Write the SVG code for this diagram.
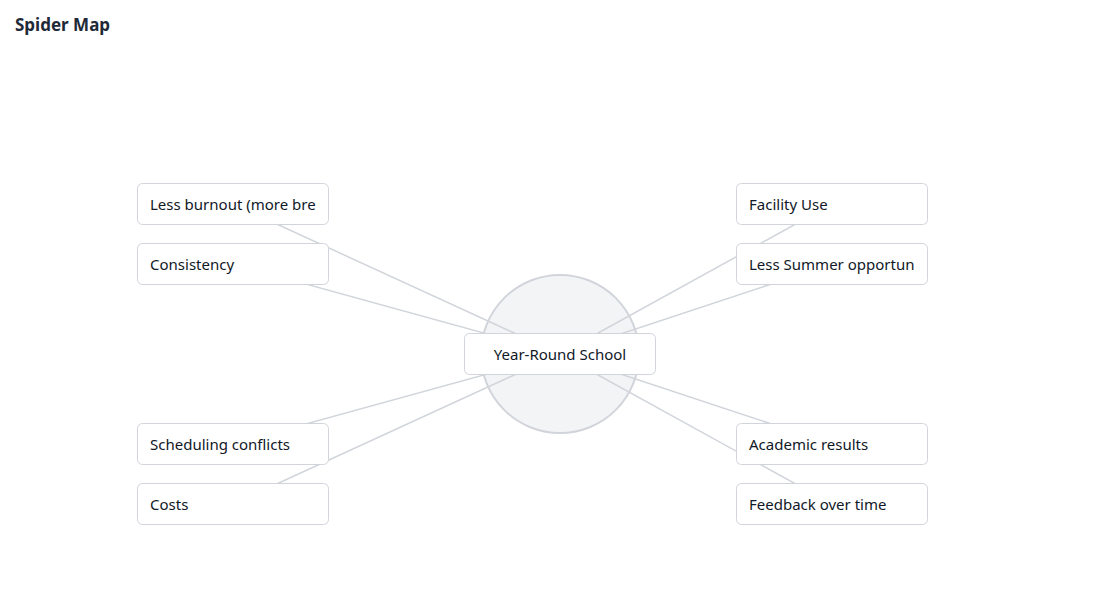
<svg xmlns="http://www.w3.org/2000/svg" width="1096" height="607" viewBox="0 0 1096 607">
<style>
.title{font-family:"Noto Sans","Liberation Sans",sans-serif;font-size:17px;font-weight:700;fill:#1f2937}
.box{fill:#ffffff;stroke:#d1d5db;stroke-width:1}
.lbl{font-family:"Noto Sans","Liberation Sans",sans-serif;font-size:15px;fill:#111827;dominant-baseline:central}
.edge{stroke:#d1d5db;stroke-width:1.5;fill:none}
</style>
<defs>
<clipPath id="cl"><rect x="149" y="180" width="167" height="350"/></clipPath>
<clipPath id="cr"><rect x="748" y="180" width="167" height="350"/></clipPath>
</defs>
<rect width="1096" height="607" fill="#ffffff"/>
<text class="title" x="15" y="31">Spider Map</text>
<circle cx="560" cy="354" r="79" fill="#f3f4f6" stroke="#d1d5db" stroke-width="2"/>
<g id="connectors">
<line class="edge" x1="233" y1="204" x2="560" y2="354"/>
<line class="edge" x1="233" y1="264" x2="560" y2="354"/>
<line class="edge" x1="233" y1="444" x2="560" y2="354"/>
<line class="edge" x1="233" y1="504" x2="560" y2="354"/>
<line class="edge" x1="832" y1="204" x2="560" y2="354"/>
<line class="edge" x1="832" y1="264" x2="560" y2="354"/>
<line class="edge" x1="832" y1="444" x2="560" y2="354"/>
<line class="edge" x1="832" y1="504" x2="560" y2="354"/>
</g>
<g id="center">
<rect class="box" x="464.5" y="333.5" width="191" height="41" rx="5"/>
<text class="lbl" x="560" y="354" text-anchor="middle">Year-Round School</text>
</g>
<g id="n-burnout">
<rect class="box" x="137.5" y="183.5" width="191" height="41" rx="5"/>
<text class="lbl" x="150" y="204" clip-path="url(#cl)">Less burnout (more breaks)</text>
</g>
<g id="n-consistency">
<rect class="box" x="137.5" y="243.5" width="191" height="41" rx="5"/>
<text class="lbl" x="150" y="264" clip-path="url(#cl)">Consistency</text>
</g>
<g id="n-scheduling">
<rect class="box" x="137.5" y="423.5" width="191" height="41" rx="5"/>
<text class="lbl" x="150" y="444" clip-path="url(#cl)">Scheduling conflicts</text>
</g>
<g id="n-costs">
<rect class="box" x="137.5" y="483.5" width="191" height="41" rx="5"/>
<text class="lbl" x="150" y="504" clip-path="url(#cl)">Costs</text>
</g>
<g id="n-facility">
<rect class="box" x="736.5" y="183.5" width="191" height="41" rx="5"/>
<text class="lbl" x="749" y="204" clip-path="url(#cr)">Facility Use</text>
</g>
<g id="n-summer">
<rect class="box" x="736.5" y="243.5" width="191" height="41" rx="5"/>
<text class="lbl" x="749" y="264" clip-path="url(#cr)">Less Summer opportunities</text>
</g>
<g id="n-academic">
<rect class="box" x="736.5" y="423.5" width="191" height="41" rx="5"/>
<text class="lbl" x="749" y="444" clip-path="url(#cr)">Academic results</text>
</g>
<g id="n-feedback">
<rect class="box" x="736.5" y="483.5" width="191" height="41" rx="5"/>
<text class="lbl" x="749" y="504" clip-path="url(#cr)">Feedback over time</text>
</g>
</svg>
